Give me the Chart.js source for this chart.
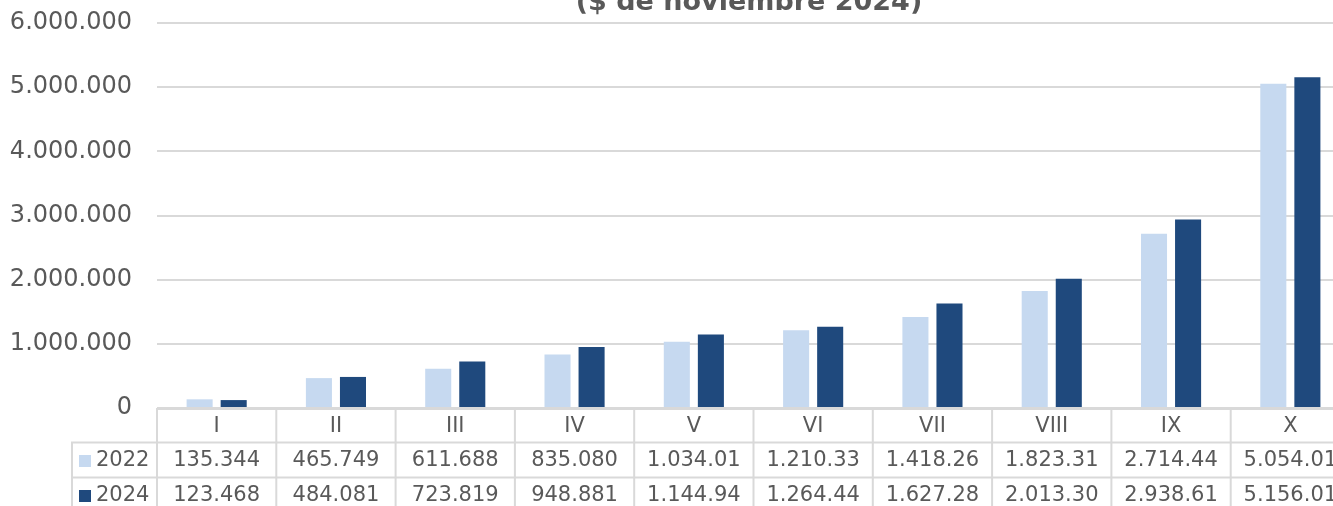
<!DOCTYPE html>
<html>
<head>
<meta charset="utf-8">
<script src="https://cdn.jsdelivr.net/npm/chart.js@4"></script>
<style>
  html, body { margin: 0; padding: 0; background: #ffffff; overflow: hidden; }
  #wrap { position: relative; width: 1350px; height: 506px; }
</style>
</head>
<body>
<div id="wrap"><canvas id="c"></canvas></div>
<script>
const categories = ["I", "II", "III", "IV", "V", "VI", "VII", "VIII", "IX", "X"];
const seriesNames = ["2022", "2024"];
const values2022 = [135344, 465749, 611688, 835080, 1034010, 1210330, 1418260, 1823310, 2714440, 5054010];
const values2024 = [123468, 484081, 723819, 948881, 1144940, 1264440, 1627280, 2013300, 2938610, 5156010];
const tableLabels2022 = ["135.344", "465.749", "611.688", "835.080", "1.034.01", "1.210.33", "1.418.26", "1.823.31", "2.714.44", "5.054.01"];
const tableLabels2024 = ["123.468", "484.081", "723.819", "948.881", "1.144.94", "1.264.44", "1.627.28", "2.013.30", "2.938.61", "5.156.01"];
const yTicks = [0, 1000000, 2000000, 3000000, 4000000, 5000000, 6000000];
const titleText = "($ de noviembre 2024)";

const colors = ["#C6D9F0", "#1F497D"];
const textColor = "#595959";
const lineColor = "#D9D9D9";

function fmt(v) {
  return String(Math.round(v)).replace(/\B(?=(\d{3})+(?!\d))/g, ".");
}

const tablePlugin = {
  id: "dataTable",
  afterDraw(chart) {
    const ctx = chart.ctx;
    const x = chart.scales.x;
    const area = chart.chartArea;
    const n = categories.length;
    const catW = (area.right - area.left) / n;
    const top = area.bottom;
    const r1 = top + 34.5;
    const r2 = r1 + 35;
    const bottom = 520;
    ctx.save();
    ctx.strokeStyle = lineColor;
    ctx.lineWidth = 2;
    ctx.beginPath();
    ctx.moveTo(area.left, top + 1); ctx.lineTo(chart.width, top + 1);
    ctx.moveTo(71, r1); ctx.lineTo(chart.width, r1);
    ctx.moveTo(71, r2); ctx.lineTo(chart.width, r2);
    ctx.moveTo(72, r1); ctx.lineTo(72, bottom);
    for (let i = 0; i <= n; i++) {
      const xp = x.getPixelForValue(i) - catW / 2;
      ctx.moveTo(xp, top); ctx.lineTo(xp, bottom);
    }
    ctx.stroke();

    ctx.fillStyle = textColor;
    ctx.font = "21px 'DejaVu Sans'";
    ctx.textAlign = "center";
    ctx.textBaseline = "middle";
    const rows = [tableLabels2022, tableLabels2024];
    for (let i = 0; i < n; i++) {
      const xc = x.getPixelForValue(i);
      ctx.fillText(categories[i], xc, (top + r1) / 2 + 1);
      ctx.fillText(rows[0][i], xc, (r1 + r2) / 2 + 1);
      ctx.fillText(rows[1][i], xc, r2 + 17.5 + 1);
    }
    ctx.textAlign = "left";
    const rowY = [(r1 + r2) / 2 + 1, r2 + 17.5 + 1];
    for (let s = 0; s < 2; s++) {
      ctx.fillStyle = colors[s];
      ctx.fillRect(79, rowY[s] - 6, 12, 12);
      ctx.fillStyle = textColor;
      ctx.fillText(seriesNames[s], 96, rowY[s]);
    }

    ctx.font = "bold 27px 'DejaVu Sans'";
    ctx.textAlign = "center";
    ctx.textBaseline = "alphabetic";
    ctx.fillStyle = textColor;
    ctx.fillText(titleText, 749, 9.5);
    ctx.restore();
  }
};

new Chart(document.getElementById("c"), {
  type: "bar",
  data: {
    labels: categories,
    datasets: [
      { label: seriesNames[0], data: values2022, backgroundColor: colors[0] },
      { label: seriesNames[1], data: values2024, backgroundColor: colors[1] }
    ]
  },
  options: {
    responsive: true,
    maintainAspectRatio: false,
    animation: false,
    devicePixelRatio: 1,
    categoryPercentage: 0.571,
    barPercentage: 0.765,
    layout: { padding: { top: 23, bottom: 90, left: 0, right: 0 } },
    plugins: {
      legend: { display: false },
      tooltip: { enabled: false },
      title: { display: false }
    },
    scales: {
      x: {
        grid: { display: false },
        border: { display: false },
        ticks: { display: false }
      },
      y: {
        min: 0,
        max: 6000000,
        afterFit(scale) { scale.width = 157; },
        afterBuildTicks(scale) { scale.ticks = yTicks.map(v => ({ value: v })); },
        grid: { color: "#D9D9D9", lineWidth: 2, drawTicks: true, tickLength: 25, tickColor: "rgba(0,0,0,0)" },
        border: { display: false },
        ticks: {
          padding: 0,
          color: textColor,
          font: { family: "'DejaVu Sans'", size: 24 },
          callback: (v) => fmt(v)
        }
      }
    }
  },
  plugins: [tablePlugin]
});
</script>
</body>
</html>
